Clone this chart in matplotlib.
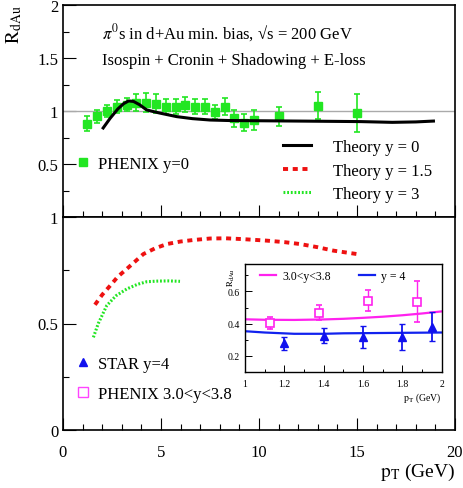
import numpy as np
import matplotlib
matplotlib.use('Agg')
import matplotlib.pyplot as plt
from matplotlib.ticker import MultipleLocator, FixedLocator

plt.rcParams['font.family'] = ['Liberation Serif', 'DejaVu Serif']
plt.rcParams['mathtext.fontset'] = 'stix'

# PHENIX pi0 y=0
pt_phenix0 = [1.25, 1.75, 2.25, 2.75, 3.25, 3.75, 4.25, 4.75, 5.25, 5.75, 6.25,
              6.75, 7.25, 7.75, 8.25, 8.75, 9.25, 9.75, 11.0, 13.0, 15.0]
r_phenix0 = [0.88, 0.95, 1.00, 1.04, 1.06, 1.08, 1.08, 1.07, 1.04, 1.04, 1.06,
             1.04, 1.04, 0.99, 1.04, 0.93, 0.89, 0.915, 0.95, 1.05, 0.98]
e_phenix0 = [0.07, 0.06, 0.06, 0.06, 0.06, 0.08, 0.09, 0.09, 0.07, 0.07, 0.07,
             0.07, 0.07, 0.07, 0.08, 0.08, 0.08, 0.09, 0.09, 0.13, 0.18]

# theory curves
pt_th0 = [2.05, 2.4, 2.8, 3.1, 3.35, 3.6, 3.9, 4.27, 4.6, 4.95, 5.8, 6.6, 7.5,
          8.5, 10.0, 12.0, 15.2, 16.8, 18.0, 18.9]
r_th0 = [0.84, 0.93, 1.02, 1.07, 1.095, 1.09, 1.06, 1.01, 0.995, 0.98, 0.947,
         0.928, 0.915, 0.91, 0.908, 0.905, 0.90, 0.893, 0.897, 0.905]

pt_th15 = [1.63, 2.0, 2.4, 2.8, 3.25, 3.7, 4.1, 4.7, 5.3, 6.0, 6.65, 7.5, 8.3,
           9.2, 10.4, 11.3, 12.1, 13.0, 13.8, 15.0]
r_th15 = [0.588, 0.635, 0.677, 0.72, 0.756, 0.793, 0.826, 0.853, 0.873, 0.885,
          0.892, 0.899, 0.90, 0.896, 0.889, 0.882, 0.873, 0.858, 0.842, 0.826]

pt_th3 = [1.55, 1.8, 2.23, 2.7, 3.25, 3.8, 4.27, 4.8, 5.4, 5.97]
r_th3 = [0.435, 0.5, 0.584, 0.63, 0.662, 0.684, 0.696, 0.699, 0.70, 0.698]

# inset: forward data
pt_star = [1.2, 1.4, 1.6, 1.8, 1.95]
r_star = [0.277, 0.324, 0.318, 0.318, 0.38]
e_star = [0.039, 0.046, 0.067, 0.079, 0.09]

pt_phenixf = [1.125, 1.375, 1.625, 1.875]
r_phenixf = [0.404, 0.468, 0.543, 0.537]
e_phenixf = [0.036, 0.048, 0.064, 0.125]

pt_thin = [1.0, 1.1, 1.25, 1.4, 1.5, 1.6, 1.7, 1.8, 1.9, 2.0]
r_th_mag = [0.427, 0.424, 0.423, 0.426, 0.43, 0.436, 0.443, 0.452, 0.463, 0.476]
r_th_blue = [0.353, 0.345, 0.337, 0.337, 0.34, 0.341, 0.342, 0.343, 0.344, 0.345]

fig = plt.figure(figsize=(4.64, 4.89), dpi=100)
W, H = 464.0, 489.0
ax1 = fig.add_axes([63 / W, 1 - 218 / H, 392 / W, 212 / H])
ax2 = fig.add_axes([63 / W, 1 - 431 / H, 392 / W, 213 / H])

for ax in (ax1, ax2):
    ax.set_xlim(0, 20)
    ax.xaxis.set_major_locator(MultipleLocator(5))
    ax.xaxis.set_minor_locator(MultipleLocator(1))
    ax.yaxis.set_minor_locator(MultipleLocator(0.25))
    ax.tick_params(which='both', direction='in', top=False, right=False,
                   labelsize=12, width=0.8)
    ax.tick_params(which='major', length=9)
    ax.tick_params(which='minor', length=4.5)
    ax.tick_params(axis='x', pad=10)
    for s in ax.spines.values():
        s.set_linewidth(1.2)

ax1.set_ylim(0, 2)
ax1.yaxis.set_major_locator(FixedLocator([0.5, 1, 1.5, 2]))
ax1.set_yticklabels(['0.5', '1', '1.5', '2'])
ax1.tick_params(axis='x', labelbottom=False)
ax1.axhline(1.0, color='#aaaaaa', lw=1)

ax2.set_ylim(0, 1)
ax2.yaxis.set_major_locator(FixedLocator([0, 0.5, 1]))
ax2.set_yticklabels(['0', '0.5', '1'])
ax2.set_xticks([0, 5, 10, 15, 20])
ax2.set_xticklabels(['0', '5', '10', '15', '20'])

ax1.errorbar(pt_phenix0, r_phenix0, yerr=e_phenix0, fmt='s', color='#22e622',
             ms=5.5, elinewidth=1.2, capsize=2.5, capthick=1.2, zorder=3)
l0, = ax1.plot(pt_th0, r_th0, color='black', lw=2.2, zorder=4)
l15, = ax2.plot(pt_th15, r_th15, color='#ee1111', lw=2.8, ls=(0, (1.3, 1.2)))
l3, = ax2.plot(pt_th3, r_th3, color='#22e622', lw=2.2, ls=(0, (0.6, 0.6)))

ph0 = plt.Line2D([], [], marker='s', ls='none', color='#22e622', ms=5.5)
leg_a = ax1.legend([ph0], ['PHENIX y=0'], loc='center left',
                   bbox_to_anchor=(0.0, 0.252), frameon=False, fontsize=12,
                   handlelength=0.6, handletextpad=0.6)
ax1.add_artist(leg_a)
ax1.legend([l0, l15, l3], ['Theory y = 0', 'Theory y = 1.5', 'Theory y = 3'],
           loc='lower right', bbox_to_anchor=(0.98, 0.0), frameon=False,
           fontsize=12, handlelength=1.7, handletextpad=1.3, labelspacing=0.45)

ax1.text(0.1, 0.845, '$\\pi^0$s in d+Au min. bias, \u221as = 200 GeV',
         transform=ax1.transAxes, fontsize=12)
ax1.text(0.1, 0.72, 'Isospin + Cronin + Shadowing + E-loss',
         transform=ax1.transAxes, fontsize=12)

ax1.set_ylabel(r'$\mathrm{R_{dAu}}$', fontsize=14, rotation=90)
ax1.yaxis.set_label_coords(-0.10, 0.91)
ax2.set_xlabel(r'$\mathrm{p_T}$ (GeV)', fontsize=14, ha='right')
ax2.xaxis.set_label_coords(1.0, -0.145)

star_h = plt.Line2D([], [], marker='^', ls='none', color='#1111ee', ms=6)
phf_h = plt.Line2D([], [], marker='s', ls='none', color='#ff44ff', ms=7,
                   markerfacecolor='none', markeredgewidth=1.0)
ax2.legend([star_h, phf_h], ['STAR y=4', 'PHENIX 3.0<y<3.8'], loc='lower left',
           bbox_to_anchor=(0.0, 0.06), frameon=False, fontsize=12,
           handlelength=0.6, handletextpad=0.6, labelspacing=0.85)

# inset
axi = fig.add_axes([245 / W, 1 - 373 / H, 196.7 / W, 108 / H])
axi.set_xlim(1, 2)
axi.set_ylim(0.1, 0.77)
axi.xaxis.set_minor_locator(MultipleLocator(0.1))
axi.yaxis.set_major_locator(FixedLocator([0.2, 0.4, 0.6]))
axi.yaxis.set_minor_locator(MultipleLocator(0.1))
axi.set_xticks([1, 1.2, 1.4, 1.6, 1.8, 2])
axi.set_xticklabels(['1', '1.2', '1.4', '1.6', '1.8', '2'])
axi.set_yticklabels(['0.2', '0.4', '0.6'])
axi.tick_params(which='both', direction='in', top=False, right=False,
                labelsize=7, width=0.7)
axi.tick_params(which='major', length=5)
axi.tick_params(which='minor', length=2.5)
axi.tick_params(axis='x', pad=5)
for s in axi.spines.values():
    s.set_linewidth(1.0)

lm, = axi.plot(pt_thin, r_th_mag, color='#ff22ee', lw=1.6)
lb, = axi.plot(pt_thin, r_th_blue, color='#1122ee', lw=1.6)
axi.errorbar(pt_phenixf, r_phenixf, yerr=e_phenixf, fmt='s', color='#ff22ee',
             mfc='white', ms=6, mew=1.2, elinewidth=1.0, capsize=2, capthick=1.0)
axi.errorbar(pt_star, r_star, yerr=e_star, fmt='^', color='#1111ee',
             ms=5.5, elinewidth=1.3, capsize=2, capthick=1.0)
axi.legend([lm, lb], ['3.0<y<3.8', 'y = 4'], loc='upper left', ncol=2,
           frameon=False, fontsize=8.5, handlelength=1.4, handletextpad=0.5,
           columnspacing=2.4, bbox_to_anchor=(0.02, 1.04))
axi.set_ylabel(r'$\mathrm{R_{dAu}}$', fontsize=6.5)
axi.yaxis.set_label_coords(-0.04, 0.88)
axi.set_xlabel(r'$\mathrm{p_T}$ (GeV)', fontsize=7, ha='right')
axi.xaxis.set_label_coords(1.0, -0.17)

fig.savefig('out.png', dpi=100)
